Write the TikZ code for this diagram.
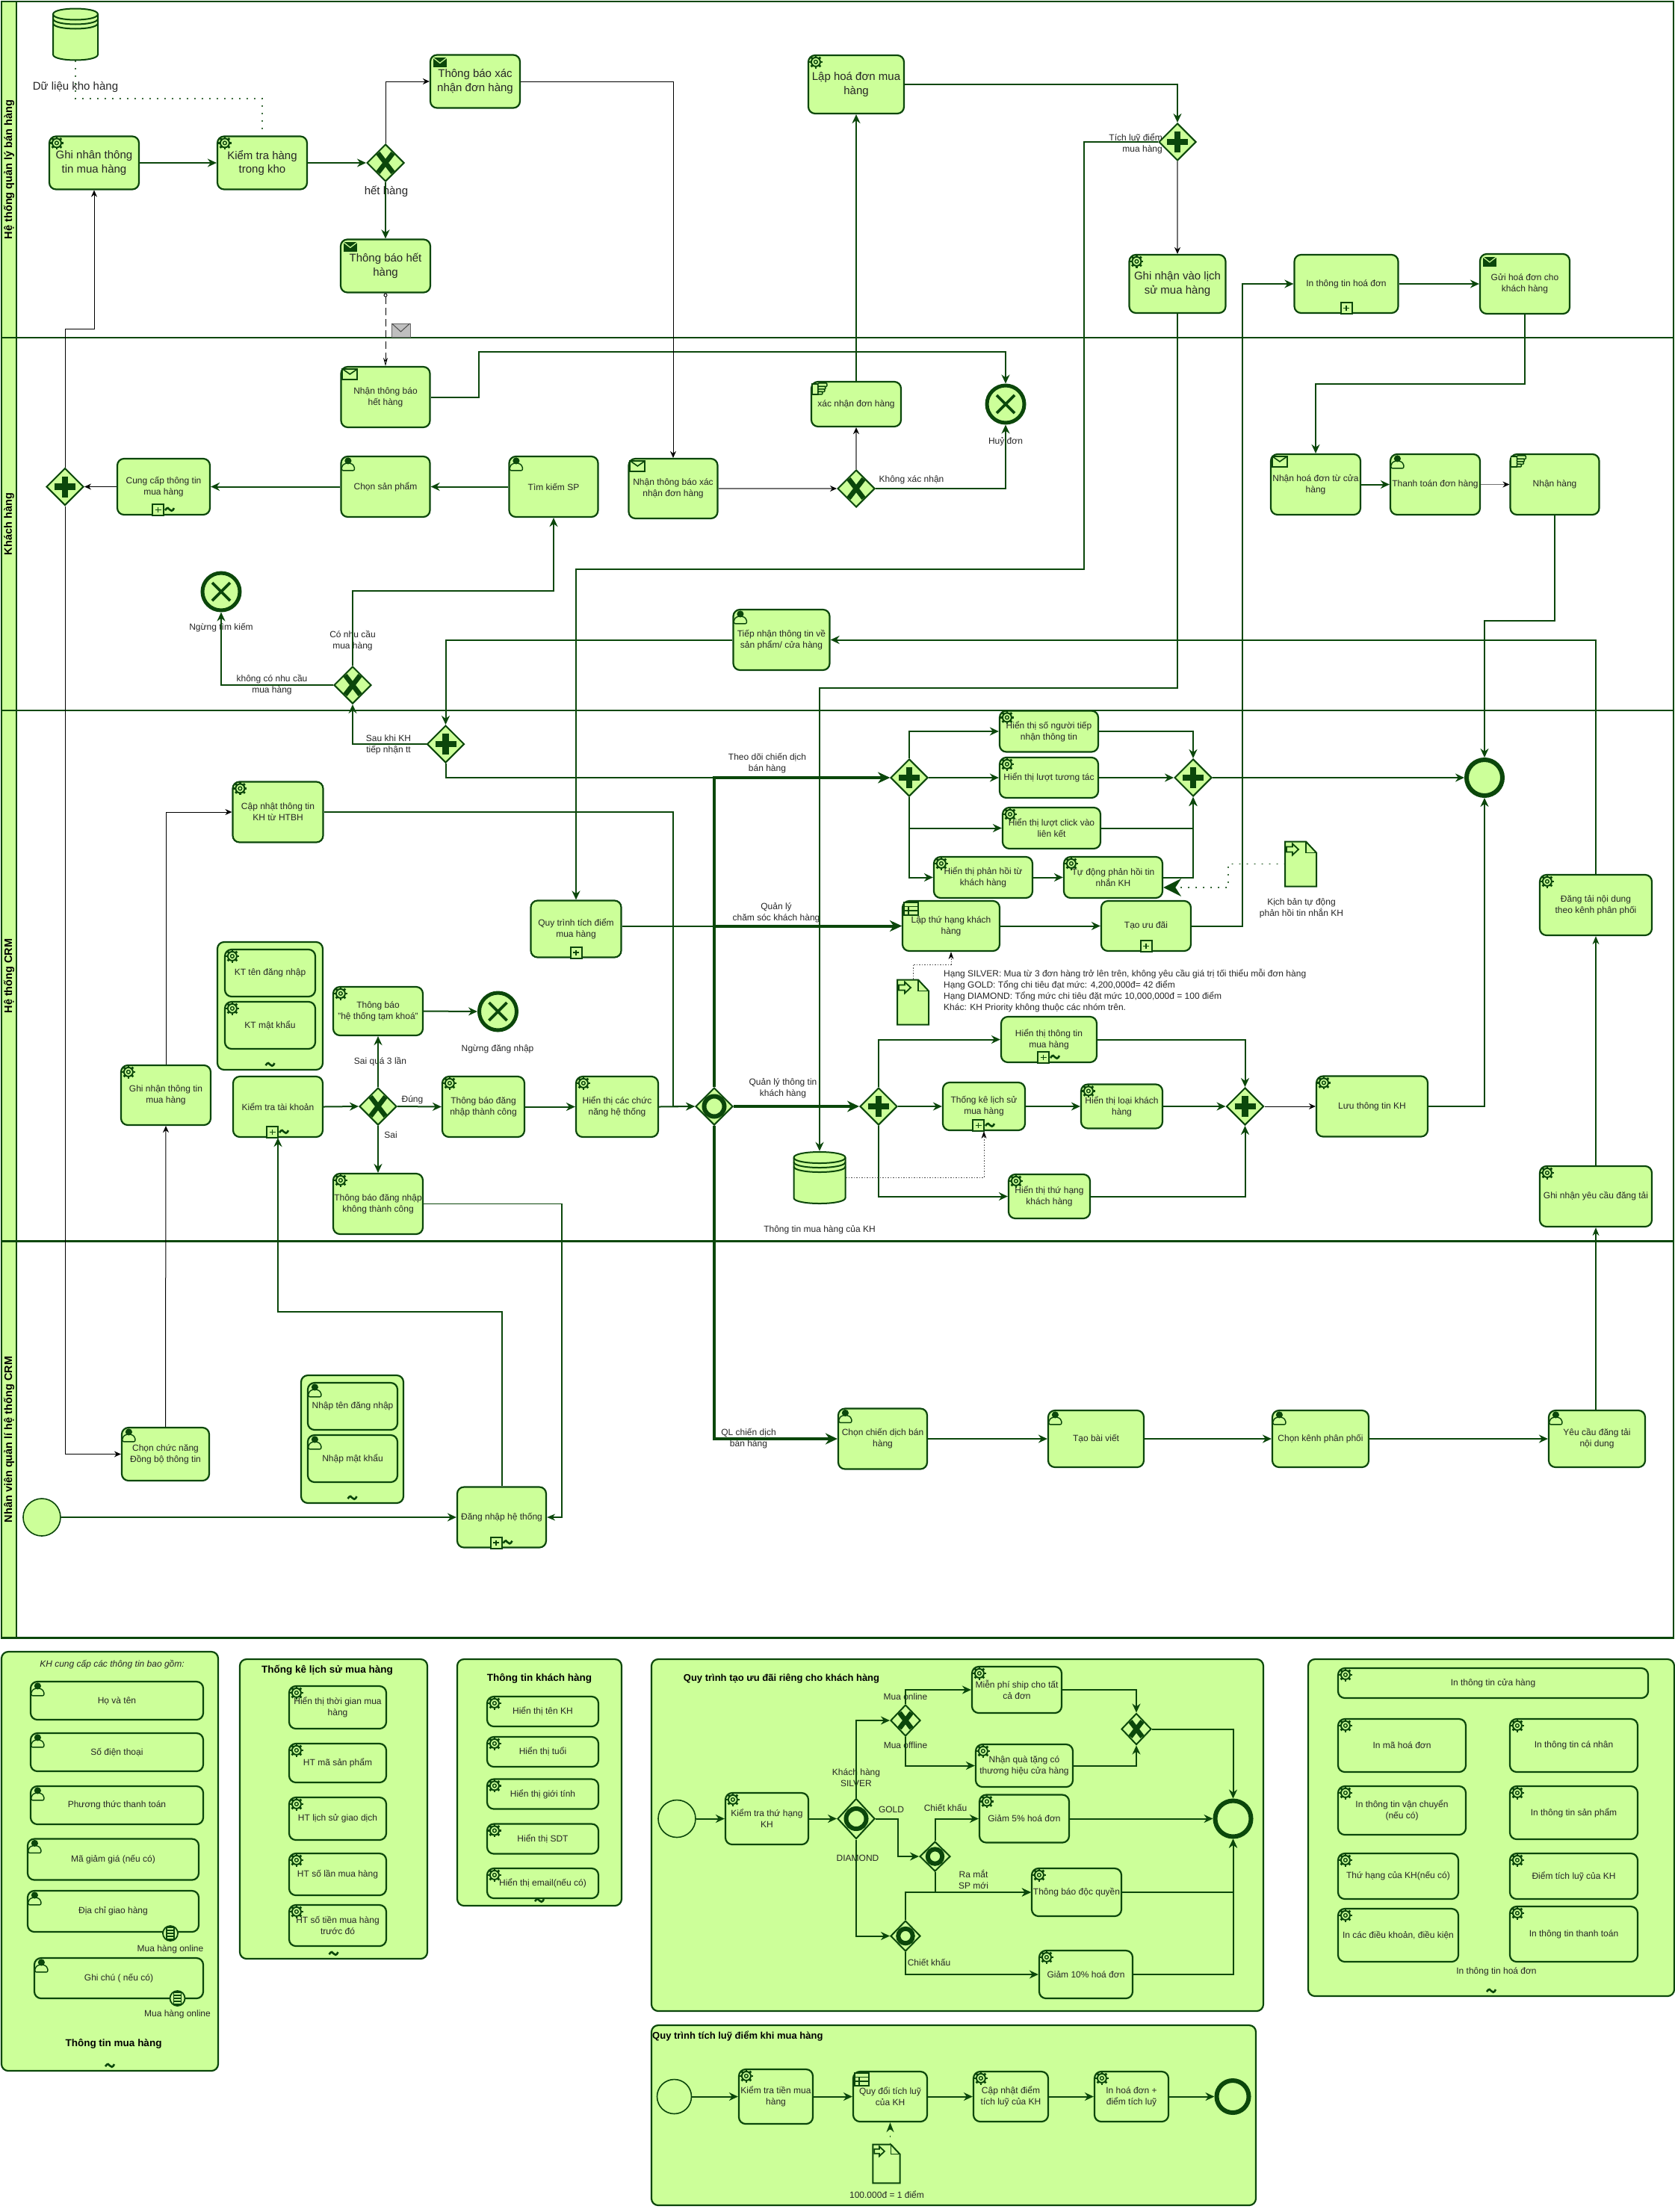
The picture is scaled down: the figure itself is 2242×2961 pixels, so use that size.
\documentclass[tikz,border=0pt]{standalone}
\usepackage{fontspec}
\setmainfont{Liberation Sans}
\usepackage{xcolor}
\usetikzlibrary{
    arrows.meta,
    shapes.geometric
}
\definecolor{bpmnfill}{HTML}{CCFF99}
\definecolor{bpmnline}{HTML}{0B470B}

\begin{document}
\begin{tikzpicture}[x=1pt, y=-1pt, font=\fontsize{12}{15}\selectfont, text=black!85,
    lanebody/.style={draw=bpmnline, fill=white, line width=2.5, minimum width=2218, inner sep=0},
    lanestrip/.style={draw=bpmnline, fill=bpmnfill, line width=2.5, minimum height=20, inner sep=0, rotate=90,
                      font=\fontsize{14.5}{17}\selectfont\bfseries, text=black},
    task/.style={draw=bpmnline, fill=bpmnfill, line width=2.2, rounded corners=9, align=center, inner sep=1},
    tasklg/.style={task, font=\fontsize{15}{18.5}\selectfont},
    grp/.style={draw=bpmnline, fill=bpmnfill, line width=2.2, rounded corners=9, inner sep=0},
    lab/.style={align=center, inner sep=0},
    ttl/.style={align=center, inner sep=0, text=black, font=\fontsize{13.5}{16}\selectfont\bfseries},
    gate/.style={diamond, aspect=1, draw=bpmnline, fill=bpmnfill, line width=2, minimum width=50, minimum height=50, inner sep=0},
    gatex/.style={gate, append after command={pic[scale=#1] at (\tikzlastnode) {xmark}}}, gatex/.default=1,
    gatep/.style={gate, append after command={pic[scale=#1] at (\tikzlastnode) {plusmark}}}, gatep/.default=1,
    gateo/.style={gate, append after command={pic[scale=#1] at (\tikzlastnode) {ormark}}}, gateo/.default=1,
    startev/.style={circle, draw=bpmnline, fill=bpmnfill, line width=1.6, minimum size=50, inner sep=0},
    endev/.style={circle, draw=bpmnline, fill=bpmnfill, line width=6, minimum size=48, inner sep=0},
    endx/.style={endev, line width=5, minimum size=50, append after command={pic at (\tikzlastnode) {crossmark}}},
    bound/.style={circle, draw=bpmnline, fill=bpmnfill, line width=1.8, minimum size=20, inner sep=0,
                  append after command={pic at (\tikzlastnode) {condmark}}},
    dataobj/.style={inner sep=0, minimum width={42*#1}, minimum height={61*#1},
                    append after command={pic[scale=#1] at (\tikzlastnode) {docshape}}}, dataobj/.default=1,
    dbstore/.style={inner sep=0, minimum width={61*#1}, minimum height=71,
                    append after command={pic[xscale=#1] at (\tikzlastnode) {dbshape}}}, dbstore/.default=1,
    gear/.style={append after command={pic at (\tikzlastnode.north west) {gearicon}}},
    usr/.style={append after command={pic at (\tikzlastnode.north west) {usericon}}},
    msg/.style={append after command={pic at (\tikzlastnode.north west) {msgicon}}},
    msgo/.style={append after command={pic at (\tikzlastnode.north west) {msgopenicon}}},
    hand/.style={append after command={pic at (\tikzlastnode.north west) {handicon}}},
    tbl/.style={append after command={pic at (\tikzlastnode.north west) {tableicon}}},
    subp/.style={append after command={pic at (\tikzlastnode.south) {subplus}}},
    subpt/.style={append after command={pic at (\tikzlastnode.south) {subplustilde}}},
    adhoc/.style={append after command={pic at ([yshift=8pt]\tikzlastnode.south) {tildemark}}},
    flow/.style={draw=bpmnline, line width=2, -{Stealth[length=12pt, width=11pt]}},
    flowfat/.style={draw=bpmnline, line width=4, -{Stealth[length=16pt, width=15pt]}},
    flowthin/.style={draw=bpmnline, line width=1.2, -{Stealth[length=11pt, width=9pt]}},
    flowblk/.style={draw=black, line width=1, -{Stealth[length=9pt, width=8pt]}},
    flowgry/.style={draw=black!55, line width=1.6, -{Stealth[length=9pt, width=8pt, black]}},
    msgflow/.style={draw=black, line width=0.9, dash pattern=on 10pt off 5pt,
                    {Circle[open, fill=white, length=5pt, width=5pt]}-{Stealth[open, fill=white, length=11pt, width=6pt]}},
    dots/.style={draw=bpmnline, line width=1.8, line cap=round, dash pattern=on 0.5pt off 9.5pt},
    assoc/.style={draw=black!70, line width=1, dash pattern=on 1.5pt off 2pt, -{Stealth[length=10pt, width=7pt, black]}},
    gearicon/.pic={
      \begin{scope}[shift={(11,10)}]
        \foreach \a in {0,45,...,315} \draw[bpmnline, line width=2.8] (\a:5) -- (\a:9);
        \draw[bpmnline, line width=2, fill=bpmnfill] (0,0) circle (6);
        \draw[bpmnline, line width=1.4] (0,0) circle (2.4);
      \end{scope}},
    usericon/.pic={
      \draw[bpmnline, line width=1.4, fill=bpmnfill, rounded corners=2] (2,20) -- (2,14) -- (7,10) -- (14,10) -- (19,14) -- (19,20) -- cycle;
      \fill[bpmnline] (10.5,7) circle (4.6);},
    msgicon/.pic={
      \fill[bpmnline] (5,5) rectangle (23,18);
      \draw[bpmnfill, line width=1.2] (5,5) -- (14,12) -- (23,5);},
    msgopenicon/.pic={
      \draw[bpmnline, line width=2, fill=bpmnfill] (3,4) rectangle (23,18);
      \draw[bpmnline, line width=1.6] (3,4) -- (13,11) -- (23,4);},
    handicon/.pic={
      \draw[bpmnline, line width=1.5, fill=bpmnfill] (2,4) rectangle (10,18);
      \draw[bpmnline, line width=1.5, fill=bpmnfill, rounded corners=1] (10,3) rectangle (22,7.5);
      \draw[bpmnline, line width=1.5, fill=bpmnfill, rounded corners=1] (10,7.5) rectangle (20,11);
      \draw[bpmnline, line width=1.5, fill=bpmnfill, rounded corners=1] (10,11) rectangle (19,14.5);
      \draw[bpmnline, line width=1.5, fill=bpmnfill, rounded corners=1] (10,14.5) rectangle (16,18);},
    tableicon/.pic={
      \draw[bpmnline, line width=1.8, fill=bpmnfill] (3,3) rectangle (22,20);
      \draw[bpmnline, line width=1.6] (3,8.5) -- (22,8.5) (3,14) -- (22,14) (9,8.5) -- (9,20);},
    subplus/.pic={
      \draw[bpmnline, line width=2, fill=bpmnfill] (-7.5,-15) rectangle (7.5,0);
      \draw[bpmnline, line width=1.6] (-4,-7.5) -- (4,-7.5) (0,-11) -- (0,-4);},
    subplustilde/.pic={
      \draw[bpmnline, line width=2, fill=bpmnfill] (-15,-15) rectangle (0,0);
      \draw[bpmnline, line width=1.6] (-11.5,-7.5) -- (-3.5,-7.5) (-7.5,-11) -- (-7.5,-4);
      \pic at (8,-8) {tildemark};},
    tildemark/.pic={
      \draw[bpmnline, line width=2.6] (-6,1) .. controls (-3,-4) and (-1,-2) .. (0,0) .. controls (1,2) and (4,3) .. (6,-2);},
    xmark/.pic={
      \draw[bpmnline, line width=6.5] (-10,-13) -- (10,13) (10,-13) -- (-10,13);},
    plusmark/.pic={
      \draw[bpmnline, line width=8.5] (-14,0) -- (14,0) (0,-14) -- (0,14);},
    ormark/.pic={
      \draw[bpmnline, line width=6] (0,0) circle (13.5);},
    crossmark/.pic={
      \draw[bpmnline, line width=3.6] (-12,-12) -- (12,12) (12,-12) -- (-12,12);},
    condmark/.pic={
      \draw[bpmnline, line width=1.4, fill=bpmnfill] (-5,-8) rectangle (5,8);
      \draw[bpmnline, line width=1.4] (-5,-4) -- (5,-4) (-5,0) -- (5,0) (-5,4) -- (5,4);},
    docshape/.pic={
      \draw[bpmnline, line width=2, fill=bpmnfill] (-21,-30) -- (7,-30) -- (21,-15) -- (21,30) -- (-21,30) -- cycle;
      \draw[bpmnline, line width=1.6] (7,-30) -- (7,-15) -- (21,-15);
      \draw[bpmnline, line width=1.8, fill=bpmnfill] (-19,-23) -- (-11,-23) -- (-11,-27) -- (-3,-19.5) -- (-11,-12) -- (-11,-16) -- (-19,-16) -- cycle;},
    dbshape/.pic={
      \draw[bpmnline, line width=2, fill=bpmnfill] (-30,-27) -- (-30,27) .. controls (-30,37) and (30,37) .. (30,27) -- (30,-27) .. controls (30,-37) and (-30,-37) .. (-30,-27) -- cycle;
      \draw[bpmnline, line width=2] (-30,-27) .. controls (-30,-17) and (30,-17) .. (30,-27);
      \draw[bpmnline, line width=2] (-30,-21) .. controls (-30,-11) and (30,-11) .. (30,-21);
      \draw[bpmnline, line width=2] (-30,-15) .. controls (-30,-5) and (30,-5) .. (30,-15);},
    envmark/.pic={
      \draw[black!70, line width=1] (-12,-9) -- (0,2) -- (12,-9);}]

    \useasboundingbox (0,0) rectangle (2242,2961);

    % ============ LANES ============
    \node[lanebody, minimum height=450] (L1) at (1131,227) {};
    \node[lanebody, minimum height=499] (L2) at (1131,701.5) {};
    \node[lanebody, minimum height=711] (L3) at (1131,1306.5) {};
    \node[lanebody, minimum height=531] (L4) at (1131,1927) {};
    \node[lanestrip, minimum width=450] (S1) at (12,227) {Hệ thống quản lý bán hàng};
    \node[lanestrip, minimum width=499] (S2) at (12,701.5) {Khách hàng};
    \node[lanestrip, minimum width=711] (S3) at (12,1306.5) {Hệ thống CRM};
    \node[lanestrip, minimum width=531] (S4) at (12,1927) {Nhân viên quản lí hệ thống CRM};

    % ============ LANE 1: sales system ============
    \node[dbstore] (DB1) at (101,46) {};
    \node[lab, font=\fontsize{15}{18}\selectfont] (DB1t) at (101,117) {Dữ liệu kho hàng};
    \node[tasklg, gear, minimum width=120, minimum height=71] (GN) at (126,218) {Ghi nhân thông\\tin mua hàng};
    \node[tasklg, gear, minimum width=120, minimum height=71] (KK) at (351,218) {Kiểm tra hàng\\trong kho};
    \node[gatex] (GX1) at (516,218) {};
    \node[lab, font=\fontsize{15}{18}\selectfont] (GX1t) at (517,256) {hết hàng};
    \node[tasklg, msg, minimum width=120, minimum height=71] (TX) at (636,109) {Thông báo xác\\nhận đơn hàng};
    \node[tasklg, msg, minimum width=120, minimum height=71] (TH) at (516,356) {Thông báo hết\\hàng};
    \node[tasklg, gear, minimum width=128, minimum height=78] (LH) at (1146,113) {Lập hoá đơn mua\\hàng};
    \node[gatep] (GP1) at (1576,190) {};
    \node[lab, align=right, anchor=east] (GP1t) at (1556,192) {Tích luỹ điểm\\mua hàng};
    \node[tasklg, gear, minimum width=129, minimum height=78] (GL) at (1576,380) {Ghi nhận vào lịch\\sử mua hàng};
    \node[task, subp, minimum width=139, minimum height=78] (IH) at (1802,380) {In thông tin hoá đơn};
    \node[task, msg, minimum width=120, minimum height=80] (GH) at (2041,380) {Gửi hoá đơn cho\\khách hàng};

    \draw[flow] (GN.east) -- (KK.west);
    \draw[flow] (KK.east) -- (GX1.west);
    \draw[flowblk] (GX1.north) |- (TX.west);
    \draw[flow] (GX1.south) -- (TH.north);
    \draw[dots] (DB1.south) -- (101,132) -| (KK.north);
    \draw[flow] (LH.east) -| (GP1.north);
    \draw[flowgry] (GP1.south) -- (GL.north);
    \draw[flow] (IH.east) -- (GH.west);

    % ============ LANE 2: customer ============
    \node[task, msgo, minimum width=119, minimum height=81] (NH) at (516,531.5) {Nhận thông báo\\hết hàng};
    \node[task, hand, minimum width=120, minimum height=60] (XN) at (1146,541) {xác nhận đơn hàng};
    \node[endx] (EH) at (1346,541) {};
    \node[lab] (EHt) at (1346,591) {Huỷ đơn};
    \node[gatex] (GX2) at (1146,654) {};
    \node[lab] (GX2t) at (1220,642) {Không xác nhận};
    \node[task, msgo, minimum width=119, minimum height=80] (NX) at (901,654) {Nhận thông báo xác\\nhận đơn hàng};
    \node[task, usr, minimum width=119, minimum height=81] (TK) at (741,651.5) {Tìm kiếm SP};
    \node[task, usr, minimum width=119, minimum height=81] (CS) at (516,651.5) {Chọn sản phẩm};
    \node[task, subpt, minimum width=124, minimum height=75] (CC) at (219,651.5) {Cung cấp thông tin\\mua hàng};
    \node[gatep] (GP2) at (87,651.5) {};
    \node[endx] (ET) at (296,792) {};
    \node[lab] (ETt) at (296,840) {Ngừng tìm kiếm};
    \node[gatex] (GX3) at (472,917) {};
    \node[lab] (GX3a) at (472,858) {Có nhu cầu\\mua hàng};
    \node[lab] (GX3b) at (364,917) {không có nhu cầu\\mua hàng};
    \node[task, usr, minimum width=129, minimum height=81] (TN) at (1046,856.5) {Tiếp nhận thông tin về\\sản phẩm/ cửa hàng};
    \node[task, msgo, minimum width=120, minimum height=81] (NO) at (1761,648.5) {Nhận hoá đơn từ cửa\\hàng};
    \node[task, usr, minimum width=120, minimum height=81] (TT) at (1921,648.5) {Thanh toán đơn hàng};
    \node[task, hand, minimum width=119, minimum height=81] (NN) at (2081,648.5) {Nhận hàng};

    \node[draw=black!60, fill=black!25, line width=1, minimum width=25, minimum height=18, inner sep=0] (EV) at (536.5,442) {};
    \pic at (EV) {envmark};
    \draw[msgflow] (TH.south) -- (NH.north);
    \draw[flow] (NH.east) -- (641,531.5) |- (971,471) -| (EH.north);
    \draw[flow] (GX2.east) -| (EH.south);
    \draw[flowgry] (GX2.north) -- (XN.south);
    \draw[flow] (XN.north) -- (LH.south);
    \draw[flowgry] (NX.east) -- (GX2.west);
    \draw[flowblk] (TX.east) -| (NX.north);
    \draw[flow] (TK.west) -- (CS.east);
    \draw[flow] (CS.west) -- (CC.east);
    \draw[flowblk] (CC.west) -- (GP2.east);
    \draw[flowblk] (GP2.north) -- (87,440) -| (GN.south);
    \draw[flow] (GX3.west) -| (ET.south);
    \draw[flow] (GX3.north) -- (472,791) -| (TK.south);
    \draw[flow] (NO.east) -- (TT.west);
    \draw[flowgry] (TT.east) -- (NN.west);
    \draw[flow] (GH.south) -- (2041,514) -| (NO.north);

    % ============ LANE 3: CRM system ============
    \node[gatep] (GP3) at (596.5,996) {};
    \node[lab] (GP3t) at (520,997) {Sau khi KH\\tiếp nhận tt};
    \node[task, gear, minimum width=121, minimum height=81] (CN) at (372,1087) {Cập nhật thông tin\\KH từ HTBH};
    \node[task, gear, minimum width=120, minimum height=80] (GM) at (222,1466) {Ghi nhận thông tin\\mua hàng};
    \node[grp, adhoc, minimum width=141, minimum height=171] (KTG) at (361.5,1346.5) {};
    \node[task, gear, minimum width=121, minimum height=63] (KT1) at (361.5,1302.5) {KT tên đăng nhập};
    \node[task, gear, minimum width=121, minimum height=63] (KT2) at (361.5,1372.5) {KT mật khẩu};
    \node[task, subpt, minimum width=120, minimum height=81] (KA) at (372,1481.5) {Kiểm tra tài khoản};
    \node[gatex] (GX4) at (506,1481) {};
    \node[task, gear, minimum width=120, minimum height=65] (TK3) at (506,1353.5) {Thông báo\\"hệ thống tạm khoá"};
    \node[endx] (ED) at (666.5,1354) {};
    \node[lab] (EDt) at (666,1404) {Ngừng đăng nhập};
    \node[lab] (S3t) at (509,1421) {Sai quá 3 lần};
    \node[lab] (Dt) at (552,1472) {Đúng};
    \node[lab] (St) at (523,1519) {Sai};
    \node[task, gear, minimum width=110, minimum height=81] (TC) at (647,1481.5) {Thông báo đăng\\nhập thành công};
    \node[task, gear, minimum width=110, minimum height=81] (HC) at (826,1481.5) {Hiển thị các chức\\năng hệ thống};
    \node[task, gear, minimum width=120, minimum height=81] (TF) at (506,1611.5) {Thông báo đăng nhập\\không thành công};
    \node[task, subp, minimum width=121, minimum height=76] (QT) at (771,1243.5) {Quy trình tích điểm\\mua hàng};
    \node[gateo] (GO) at (956,1481) {};
    \node[lab] (GOa) at (1027,1022) {Theo dõi chiến dịch\\bán hàng};
    \node[lab] (GOb) at (1039,1222) {Quản lý\\chăm sóc khách hàng};
    \node[lab] (GOc) at (1048,1457) {Quản lý thông tin\\khách hàng};

    \node[gatep] (PA) at (1217,1041) {};
    \node[gatep] (PB) at (1597,1041) {};
    \node[task, gear, minimum width=132, minimum height=55] (HS) at (1404,979) {Hiển thị số người tiếp\\nhận thông tin};
    \node[task, gear, minimum width=132, minimum height=54] (HL) at (1404,1041) {Hiển thị lượt tương tác};
    \node[task, gear, minimum width=131, minimum height=55] (HK) at (1407.5,1108.5) {Hiển thị lượt click vào\\liên kết};
    \node[task, gear, minimum width=132, minimum height=55] (HP) at (1316,1174.5) {Hiển thị phản hồi từ\\khách hàng};
    \node[task, gear, minimum width=132, minimum height=55] (TD) at (1490,1174.5) {Tự động phản hồi tin\\nhắn KH};
    \node[endev] (EC) at (1987,1041) {};
    \node[dataobj] (DO1) at (1741,1156.5) {};
    \node[lab] (DO1t) at (1742,1216) {Kịch bản tự động\\phản hồi tin nhắn KH};
    \node[task, tbl, minimum width=130, minimum height=67] (LT) at (1273,1239.5) {Lập thứ hạng khách\\hàng};
    \node[task, subp, minimum width=120, minimum height=67] (UD) at (1534,1239.5) {Tạo ưu đãi};
    \node[dataobj] (DO2) at (1222,1341.5) {};
    \node[lab, align=left, anchor=north west] (RT) at (1263,1297) {Hạng SILVER: Mua từ 3 đơn hàng trở lên trên, không yêu cầu giá trị tối thiểu mỗi đơn hàng\\
      Hạng GOLD: Tổng chi tiêu đạt mức: 4,200,000đ= 42 điểm\\
      Hạng DIAMOND: Tổng mức chi tiêu đặt mức 10,000,000đ = 100 điểm\\
      Khác: KH Priority không thuộc các nhóm trên.};
    \node[task, gear, minimum width=150, minimum height=81] (DT) at (2136,1211.5) {Đăng tải nội dung\\theo kênh phân phối};
    \node[task, gear, minimum width=150, minimum height=81] (GY) at (2136,1601.5) {Ghi nhận yêu cầu đăng tải};

    \node[gatep] (PC) at (1176,1481) {};
    \node[gatep] (PD) at (1666.5,1481) {};
    \node[task, subpt, minimum width=128, minimum height=61] (HT) at (1404,1391.5) {Hiển thị thông tin\\mua hàng};
    \node[task, subpt, minimum width=110, minimum height=64] (TS) at (1317,1481) {Thống kê lịch sử\\mua hàng};
    \node[task, gear, minimum width=109, minimum height=59] (HO) at (1501.5,1481) {Hiển thị loại khách\\hàng};
    \node[task, gear, minimum width=109, minimum height=59] (HH) at (1404.5,1601.5) {Hiển thị thứ hạng\\khách hàng};
    \node[task, gear, minimum width=149, minimum height=81] (LK) at (1836.5,1481) {Lưu thông tin KH};
    \node[dbstore=1.15] (DB2) at (1097,1576.5) {};
    \node[lab] (DB2t) at (1097,1646) {Thông tin mua hàng của KH};

    \draw[flow] (TN.west) -| (GP3.north);
    \draw[flow] (GP3.west) -| (GX3.south);
    \draw[flow] (GP3.south) |- (PA.west);
    \draw[flowfat] (GO.north) |- (PA.west);
    \draw[flow] (PA.north) |- (HS.west);
    \draw[flow] (PA.east) -- (HL.west);
    \draw[flow] (PA.south) |- (HK.west);
    \draw[flow] (PA.south) |- (HP.west);
    \draw[flow] (HP.east) -- (TD.west);
    \draw[flow] (HS.east) -| (PB.north);
    \draw[flow] (HL.east) -- (PB.west);
    \draw[flow] (HK.east) -| (PB.south);
    \draw[flow] (TD.east) -| (PB.south);
    \draw[flow] (PB.east) -- (EC.west);
    \draw[dots, -{Stealth[length=24pt, width=24pt]}] (DO1.west) -- (1644,1156.5) |- ([yshift=-13.5pt]TD.east);
    \draw[flow] (QT.east |- LT.west) -- (LT.west);
    \draw[flowfat] (GO.north) |- (LT.west);
    \draw[flow] (LT.east) -- (UD.west);
    \draw[flow] (UD.east) -- (1663,1239.5) |- (IH.west);
    \draw[assoc] (DO2.north) -- (1222,1291) -| (LT.south);
    \draw[flow] (DT.north) |- (TN.east);
    \draw[flowthin] (GY.north) -- (DT.south);
    \draw[flow] (NN.south) -- (2081,831) -| (EC.north);
    \draw[flow] (GP1.west) -- (1451,190) |- (771,762) -- (QT.north);
    \draw[flow] (GL.south) -- (1576,921) -| (DB2.north);
    \draw[flowblk] (GM.north) |- (CN.west);
    \draw[flowthin] (CN.east) -| (901,1470) |- (GO.west);
    \draw[flow] (KA.east) -- (GX4.west);
    \draw[flow] (GX4.north) -- (TK3.south);
    \draw[flow] (TK3.east) -- (ED.west);
    \draw[flow] (GX4.east) -- (TC.west);
    \draw[flow] (GX4.south) -- (TF.north);
    \draw[flow] (TC.east) -- (HC.west);
    \draw[flow] (HC.east) -- (GO.west);
    \draw[flowfat] (GO.east) -- (PC.west);
    \draw[flow] (PC.north) |- (HT.west);
    \draw[flow] (PC.east) -- (TS.west);
    \draw[flow] (TS.east) -- (HO.west);
    \draw[flow] (HO.east) -- (PD.west);
    \draw[flow] (PC.south) |- (HH.west);
    \draw[flow] (HT.east) -| (PD.north);
    \draw[flow] (HH.east) -| (PD.south);
    \draw[flowblk] (PD.east) -- (LK.west);
    \draw[flow] (LK.east) -| (EC.south);
    \draw[assoc] (DB2.east) -| (TS.south);

    % ============ LANE 4: CRM staff ============
    \node[startev] (SE) at (56,2031) {};
    \node[task, usr, minimum width=117, minimum height=71] (CCN) at (221.5,1946.5) {Chọn chức năng\\Đồng bộ thông tin};
    \node[grp, adhoc, minimum width=137, minimum height=171] (NG) at (471.5,1926.5) {};
    \node[task, usr, minimum width=120, minimum height=63] (N1) at (472,1882.5) {Nhập tên đăng nhập};
    \node[task, usr, minimum width=120, minimum height=63] (N2) at (472,1952.5) {Nhập mật khẩu};
    \node[task, subpt, minimum width=119, minimum height=81] (DN) at (671.5,2031) {Đăng nhập hệ thống};
    \node[task, usr, minimum width=119, minimum height=81] (CD) at (1181.5,1926) {Chọn chiến dịch bán\\hàng};
    \node[task, usr, minimum width=128, minimum height=76] (BV) at (1467,1926) {Tạo bài viết};
    \node[task, usr, minimum width=129, minimum height=76] (KP) at (1767.5,1926) {Chọn kênh phân phối};
    \node[task, usr, minimum width=129, minimum height=76] (YC) at (2137.5,1926) {Yêu cầu đăng tải\\nội dung};
    \node[lab] (CDt) at (1002,1926) {QL chiến dịch\\bán hàng};

    \draw[flow] (SE.east) -- (DN.west);
    \draw[flowthin] (TF.east) -- (752,1611.5) |- (DN.east);
    \draw[flow] (DN.north) -- (671.5,1756) -| (KA.south);
    \draw[flowblk] (GP2.south) |- (CCN.west);
    \draw[flowblk] (CCN.north) -- (GM.south);
    \draw[flowfat] (GO.south) |- (CD.west);
    \draw[flow] (CD.east) -- (BV.west);
    \draw[flow] (BV.east) -- (KP.west);
    \draw[flow] (KP.east) -- (YC.west);
    \draw[flowthin] (YC.north -| GY.south) -- (GY.south);

    % ============ GROUP: purchase details ============
    \node[grp, adhoc, minimum width=290, minimum height=561] (G1) at (147,2491.5) {};
    \node[lab, font=\fontsize{12}{15}\selectfont\itshape] (G1t) at (150,2228.5) {KH cung cấp các thông tin bao gồm:};
    \node[task, usr, minimum width=231, minimum height=51] (G1a) at (156.5,2276.5) {Họ và tên};
    \node[task, usr, minimum width=231, minimum height=51] (G1b) at (156.5,2345.5) {Số điện thoại};
    \node[task, usr, minimum width=231, minimum height=51] (G1c) at (156.5,2416.5) {Phương thức thanh toán};
    \node[task, usr, minimum width=229, minimum height=55] (G1d) at (151.5,2489) {Mã giảm giá (nếu có)};
    \node[task, usr, minimum width=229, minimum height=55] (G1e) at (151.5,2558.5) {Địa chỉ giao hàng};
    \node[bound] (B1) at (228,2588) {};
    \node[lab] (B1t) at (228,2609) {Mua hàng online};
    \node[task, usr, minimum width=226, minimum height=54] (G1f) at (159,2648) {Ghi chú ( nếu có)};
    \node[bound] (B2) at (237.5,2675) {};
    \node[lab] (B2t) at (237.5,2696) {Mua hàng online};
    \node[ttl] (G1u) at (152,2736) {Thông tin mua hàng};

    % ============ GROUP: purchase history ============
    \node[grp, adhoc, minimum width=251, minimum height=401] (G2) at (446.5,2421.5) {};
    \node[ttl] (G2t) at (438,2236) {Thống kê lịch sử mua hàng};
    \node[task, gear, minimum width=130, minimum height=57] (G2a) at (452,2285.5) {Hiển thị thời gian mua\\hàng};
    \node[task, gear, minimum width=130, minimum height=52] (G2b) at (452,2360) {HT mã sản phẩm};
    \node[task, gear, minimum width=130, minimum height=57] (G2c) at (452,2434.5) {HT lịch sử giao dịch};
    \node[task, gear, minimum width=130, minimum height=56] (G2d) at (452,2509) {HT số lần mua hàng};
    \node[task, gear, minimum width=130, minimum height=55] (G2e) at (452,2577.5) {HT số tiền mua hàng\\trước đó};

    % ============ GROUP: customer details ============
    \node[grp, adhoc, minimum width=220, minimum height=330] (G3) at (722,2386) {};
    \node[ttl] (G3t) at (722,2247) {Thông tin khách hàng};
    \node[task, gear, minimum width=149, minimum height=40] (G3a) at (726.5,2291) {Hiển thị tên KH};
    \node[task, gear, minimum width=149, minimum height=40] (G3b) at (726.5,2345) {Hiển thị tuổi};
    \node[task, gear, minimum width=149, minimum height=40] (G3c) at (726.5,2401.5) {Hiển thị giới tính};
    \node[task, gear, minimum width=149, minimum height=40] (G3d) at (726.5,2461.5) {Hiển thị SDT};
    \node[task, gear, minimum width=149, minimum height=40] (G3e) at (726.5,2521) {Hiển thị email(nếu có)};

    % ============ GROUP: customer offers ============
    \node[grp, minimum width=819, minimum height=471] (G4) at (1281.5,2456.5) {};
    \node[ttl, font=\fontsize{13}{16}\selectfont\bfseries] (G4t) at (1046,2247) {Quy trình tạo ưu đãi riêng cho khách hàng};
    \node[startev] (SO) at (906,2434.5) {};
    \node[task, gear, minimum width=111, minimum height=69] (KH) at (1026.5,2434.5) {Kiểm tra thứ hạng\\KH};
    \node[gateo, minimum height=54] (OO) at (1146,2434.5) {};
    \node[lab] (OOa) at (1146,2380) {Khách hàng\\SILVER};
    \node[lab] (OOb) at (1193,2422) {GOLD};
    \node[lab] (OOc) at (1148,2487) {DIAMOND};
    \node[gatex=0.8, minimum width=40, minimum height=42] (XA) at (1212,2303) {};
    \node[lab] (XAa) at (1212,2271) {Mua online};
    \node[lab] (XAb) at (1212,2336) {Mua offline};
    \node[task, gear, minimum width=120, minimum height=62] (MP) at (1361,2262) {Miễn phí ship cho tất\\cả đơn};
    \node[task, gear, minimum width=130, minimum height=57] (NQ) at (1371,2363.5) {Nhận quà tặng có\\thương hiệu cửa hàng};
    \node[gatex=0.8, minimum width=40, minimum height=42] (XB) at (1521,2314.5) {};
    \node[gateo=0.72, minimum width=41, minimum height=40] (OA) at (1251.5,2485) {};
    \node[gateo=0.72, minimum width=40, minimum height=41] (OB) at (1212,2591.5) {};
    \node[task, gear, minimum width=120, minimum height=64] (G5P) at (1371,2434.5) {Giảm 5\% hoá đơn};
    \node[task, gear, minimum width=120, minimum height=64] (TQ) at (1441,2533) {Thông báo độc quyền};
    \node[task, gear, minimum width=125, minimum height=64] (G10) at (1453.5,2643) {Giảm 10\% hoá đơn};
    \node[endev] (EO) at (1650.5,2434.5) {};
    \node[lab] (OAa) at (1265.5,2420) {Chiết khấu};
    \node[lab] (OAb) at (1303,2516) {Ra mắt\\SP mới};
    \node[lab] (OBa) at (1243.5,2627) {Chiết khấu};

    \draw[flow] (SO.east) -- (KH.west);
    \draw[flow] (KH.east) -- (OO.west);
    \draw[flow] (OO.north) |- (XA.west);
    \draw[flow] (XA.north) |- (MP.west);
    \draw[flow] (XA.south) |- (NQ.west);
    \draw[flow] (MP.east) -| (XB.north);
    \draw[flow] (NQ.east) -| (XB.south);
    \draw[flow] (XB.east) -| (EO.north);
    \draw[flow] (OO.east) -- (1202,2434.5) |- (OA.west);
    \draw[flow] (OA.north) |- (G5P.west);
    \draw[flow] (G5P.east) -- (EO.west);
    \draw[flow] (OO.south) |- (OB.west);
    \draw[flow] (OA.south) |- (TQ.west);
    \draw[flow] (OB.north) |- (TQ.west);
    \draw[flow] (OB.south) |- (G10.west);
    \draw[flow] (TQ.east) -| (EO.south);
    \draw[flow] (G10.east) -| (EO.south);

    % ============ GROUP: invoice ============
    \node[grp, adhoc, minimum width=490, minimum height=451] (G5) at (1996,2446.5) {};
    \node[task, gear, minimum width=415, minimum height=40] (G5a) at (1998.5,2253) {In thông tin cửa hàng};
    \node[task, gear, minimum width=171, minimum height=71] (G5b) at (1876.5,2336.5) {In mã hoá đơn};
    \node[task, gear, minimum width=171, minimum height=71] (G5c) at (2106.5,2336.5) {In thông tin cá nhân};
    \node[task, gear, minimum width=171, minimum height=65] (G5d) at (1876.5,2423.5) {In thông tin vận chuyển\\(nếu có)};
    \node[task, gear, minimum width=171, minimum height=71] (G5e) at (2106.5,2426.5) {In thông tin sản phẩm};
    \node[task, gear, minimum width=161, minimum height=61] (G5f) at (1871.5,2511.5) {Thứ hạng của KH(nếu có)};
    \node[task, gear, minimum width=171, minimum height=61] (G5g) at (2106.5,2511.5) {Điểm tích luỹ của KH};
    \node[task, gear, minimum width=161, minimum height=71] (G5h) at (1871.5,2590.5) {In các điều khoản, điều kiện};
    \node[task, gear, minimum width=171, minimum height=74] (G5i) at (2106.5,2589) {In thông tin thanh toán};
    \node[lab] (G5t) at (2003,2639) {In thông tin hoá đơn};

    % ============ GROUP: loyalty points ============
    \node[grp, minimum width=809, minimum height=241] (G6) at (1276.5,2831.5) {};
    \node[ttl, anchor=west, font=\fontsize{13}{16}\selectfont\bfseries] (G6t) at (873,2726) {Quy trình tích luỹ điểm khi mua hàng};
    \node[startev, minimum size=46] (SP) at (902.5,2806.5) {};
    \node[task, gear, minimum width=99, minimum height=73] (KM) at (1038.5,2806.5) {Kiểm tra tiền mua\\hàng};
    \node[task, tbl, minimum width=99, minimum height=67] (QD) at (1191.5,2806.5) {Quy đổi tích luỹ\\của KH};
    \node[task, gear, minimum width=100, minimum height=67] (CP) at (1353,2806.5) {Cập nhật điểm\\tích luỹ của KH};
    \node[task, gear, minimum width=99, minimum height=67] (IP) at (1514.5,2806.5) {In hoá đơn +\\điểm tích luỹ};
    \node[endev, minimum size=43] (EP) at (1650,2806.5) {};
    \node[dataobj=0.86] (DO3) at (1186.5,2896.5) {};
    \node[lab] (DO3t) at (1187,2938) {100.000đ = 1 điểm};

    \draw[flow] (SP.east) -- (KM.west);
    \draw[flow] (KM.east) -- (QD.west);
    \draw[flow] (QD.east) -- (CP.west);
    \draw[flow] (CP.east) -- (IP.west);
    \draw[flow] (IP.east) -- (EP.west);
    \draw[dots, -{Stealth[length=13pt, width=10pt]}] (DO3.north -| QD.south) -- (QD.south);
\end{tikzpicture}
\end{document}
